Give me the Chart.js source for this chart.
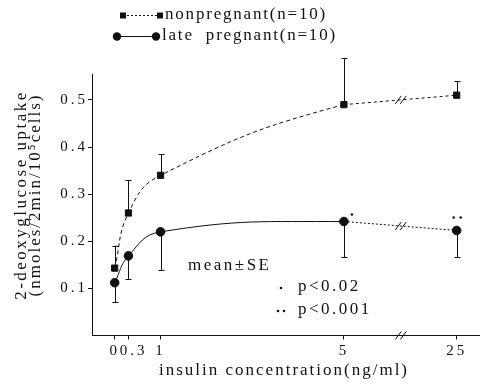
<!DOCTYPE html>
<html>
<head>
<meta charset="utf-8">
<script src="https://cdn.jsdelivr.net/npm/chart.js@4/dist/chart.umd.min.js"></script>
<style>
  html, body { margin: 0; padding: 0; background: #fff; }
  canvas { display: block; }
</style>
</head>
<body>
<canvas id="uptakeChart" width="485" height="386"></canvas>
<script>
// insulin concentrations (ng/ml) and tick labels of the x axis
const concentrations = [0, 0.3, 1, 5, 25];
const xTickLabels = ['0', '0.3', '1', '5', '25'];
const yTicks = [0.1, 0.2, 0.3, 0.4, 0.5];

// 2-deoxyglucose uptake, mean and SE
const nonpregnantMean = [0.143, 0.26, 0.34, 0.49, 0.51];
const nonpregnantSE = [0.048, 0.07, 0.045, 0.098, 0.03];
const pregnantMean = [0.112, 0.169, 0.22, 0.242, 0.223];
const pregnantSE = [0.041, 0.049, 0.082, 0.076, 0.057];
// significance marks for late pregnant (1 dot: p<0.02, 2 dots: p<0.001)
const pregnantSig = [0, 0, 0, 1, 2];

// the x axis is broken between 5 and 25
const BREAK_FROM = 5;
const BREAK_AT = 6.24;
const axisPos = c => c <= BREAK_FROM ? c : BREAK_FROM + (c - BREAK_FROM) * 0.123;

const INK = '#111';
const SERIF = '"Liberation Serif", "Times New Roman", serif';

function text(ctx, str, x, y, size, spacing, align) {
  ctx.font = size + 'px ' + SERIF;
  ctx.letterSpacing = spacing + 'px';
  ctx.textAlign = align || 'left';
  ctx.textBaseline = 'middle';
  ctx.fillText(str, x, y);
}

function slashes(ctx, px, py) {
  ctx.beginPath();
  [-2.5, 2.5].forEach(dx => {
    ctx.moveTo(px + dx - 3, py + 4);
    ctx.lineTo(px + dx + 3, py - 4);
  });
  ctx.stroke();
}

const extras = {
  id: 'extras',
  beforeDraw(chart) {
    chart.ctx.letterSpacing = '3px';
  },
  beforeDatasetsDraw(chart) {
    const { ctx, scales: { x, y } } = chart;
    ctx.save();
    ctx.strokeStyle = INK;
    ctx.lineWidth = 1;
    const bar = (px, y1, y2) => {
      px = Math.round(px) + 0.5;
      ctx.beginPath();
      ctx.moveTo(px, y1);
      ctx.lineTo(px, y2);
      ctx.moveTo(px - 3, Math.round(y2) + 0.5);
      ctx.lineTo(px + 3, Math.round(y2) + 0.5);
      ctx.stroke();
    };
    concentrations.forEach((c, i) => {
      const px = x.getPixelForValue(axisPos(c));
      bar(px, y.getPixelForValue(nonpregnantMean[i]), y.getPixelForValue(nonpregnantMean[i] + nonpregnantSE[i]));
      bar(px, y.getPixelForValue(pregnantMean[i]), y.getPixelForValue(pregnantMean[i] - pregnantSE[i]));
    });
    ctx.restore();
  },
  afterDraw(chart) {
    const { ctx, scales: { x, y } } = chart;
    ctx.save();
    ctx.fillStyle = INK;
    ctx.strokeStyle = INK;
    ctx.lineWidth = 1;

    // axis break marks
    const bx = x.getPixelForValue(BREAK_AT);
    slashes(ctx, bx, y.bottom);
    [nonpregnantMean, pregnantMean].forEach(m => {
      const x0 = x.getPixelForValue(axisPos(concentrations[3]));
      const x1 = x.getPixelForValue(axisPos(concentrations[4]));
      const y0 = y.getPixelForValue(m[3]);
      const y1 = y.getPixelForValue(m[4]);
      slashes(ctx, bx, y0 + (y1 - y0) * (bx - x0) / (x1 - x0));
    });

    // significance dots
    const dot = (px, py) => { ctx.beginPath(); ctx.arc(px, py, 1.3, 0, Math.PI * 2); ctx.fill(); };
    concentrations.forEach((c, i) => {
      const px = x.getPixelForValue(axisPos(c));
      const py = y.getPixelForValue(pregnantMean[i]);
      if (pregnantSig[i] === 1) dot(px + 8, py - 7);
      if (pregnantSig[i] === 2) { dot(px - 3, py - 13); dot(px + 4, py - 13); }
    });

    // legend
    ctx.beginPath();
    ctx.setLineDash([2, 2]);
    ctx.moveTo(127, 15.5); ctx.lineTo(158, 15.5);
    ctx.stroke();
    ctx.setLineDash([]);
    ctx.fillRect(120, 12.5, 6, 6);
    ctx.fillRect(157, 12.5, 6, 6);
    ctx.beginPath();
    ctx.moveTo(119, 36.5); ctx.lineTo(154, 36.5);
    ctx.stroke();
    ctx.beginPath(); ctx.arc(117, 36.5, 4.2, 0, Math.PI * 2); ctx.fill();
    ctx.beginPath(); ctx.arc(156, 36.5, 4.2, 0, Math.PI * 2); ctx.fill();
    text(ctx, 'nonpregnant(n=10)', 165, 15, 17, 1.8);
    text(ctx, 'late  pregnant(n=10)', 162, 36, 17, 1.8);

    // notes
    text(ctx, 'mean\u00b1SE', 188, 266, 17, 2.5);
    dot(281, 288);
    text(ctx, 'p<0.02', 298, 287, 17, 2.5);
    dot(278, 311); dot(284, 311);
    text(ctx, 'p<0.001', 298, 310, 17, 2.5);

    // axis titles
    text(ctx, 'insulin concentration(ng/ml)', 284, 371, 17, 2, 'center');
    ctx.translate(22, 195);
    ctx.rotate(-Math.PI / 2);
    text(ctx, '2-deoxyglucose uptake', 0, 0, 17, 2.5, 'center');
    text(ctx, '(nmoles/2min/10\u2075cells)', 0, 14, 17, 2, 'center');
    ctx.restore();
    ctx.letterSpacing = '0px';
  }
};

const tickFont = { family: SERIF, size: 15 };

const nonpregnantPoints = concentrations.map((c, i) => ({ x: axisPos(c), y: nonpregnantMean[i] }));
const pregnantPoints = concentrations.map((c, i) => ({ x: axisPos(c), y: pregnantMean[i] }));

// the part across the axis break is drawn as a straight dotted line
const hideBreak = s => s.p1DataIndex === concentrations.length - 1 ? 'rgba(0,0,0,0)' : undefined;
const breakLine = (points, dash) => ({
  data: points.slice(3),
  showLine: true,
  borderColor: INK,
  borderWidth: 1,
  borderDash: dash,
  pointRadius: 0,
  tension: 0
});

new Chart(document.getElementById('uptakeChart'), {
  type: 'scatter',
  data: {
    datasets: [
      {
        label: 'nonpregnant(n=10)',
        data: nonpregnantPoints,
        showLine: true,
        borderColor: INK,
        backgroundColor: INK,
        borderWidth: 1,
        borderDash: [4, 3],
        pointStyle: 'rect',
        pointRadius: 4.4,
        tension: 0.45,
        segment: { borderColor: hideBreak }
      },
      {
        label: 'late pregnant(n=10)',
        data: pregnantPoints,
        showLine: true,
        borderColor: INK,
        backgroundColor: INK,
        borderWidth: 1,
        pointStyle: 'circle',
        pointRadius: 4.3,
        tension: 0.45,
        segment: { borderColor: hideBreak }
      },
      breakLine(nonpregnantPoints, [3, 3]),
      breakLine(pregnantPoints, [2, 2])
    ]
  },
  options: {
    responsive: false,
    animation: false,
    clip: false,
    layout: { padding: { top: 74, right: 0, bottom: 0, left: 0 } },
    plugins: { legend: { display: false }, tooltip: { enabled: false } },
    scales: {
      x: {
        type: 'linear',
        min: -0.495,
        max: 7.96,
        afterFit: s => { s.height = 50.5; },
        afterBuildTicks: s => { s.ticks = concentrations.map(c => ({ value: axisPos(c) })); },
        ticks: {
          callback: (v, i) => (i === 1 ? '\u2002' : '') + xTickLabels[i],
          font: tickFont, color: INK, padding: 3, maxRotation: 0, autoSkip: false
        },
        grid: { display: true, drawOnChartArea: false, drawTicks: true, tickLength: 4, color: INK },
        border: { display: true, color: INK, width: 1 }
      },
      y: {
        min: 0,
        max: 0.555,
        afterFit: s => { s.width = 92; },
        afterBuildTicks: s => { s.ticks = yTicks.map(v => ({ value: v })); },
        ticks: {
          callback: v => v.toFixed(1),
          font: tickFont, color: INK, padding: 0
        },
        grid: { display: true, drawOnChartArea: false, drawTicks: true, tickLength: 4, color: INK },
        border: { display: true, color: INK, width: 1 }
      }
    }
  },
  plugins: [extras]
});
</script>
</body>
</html>
